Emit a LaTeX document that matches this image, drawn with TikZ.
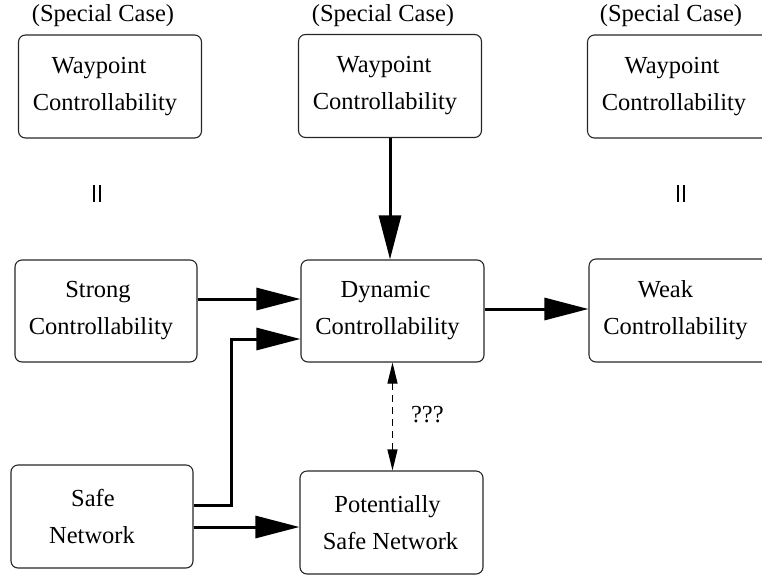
\documentclass[tikz,border=0pt]{standalone}
\usepackage{fontspec}
\setmainfont{Liberation Serif}
\usetikzlibrary{arrows.meta}
\newcommand{\tsh}[1]{\hspace*{#1pt}}
\tikzset{
  box/.style={draw=black!85, line width=1.1pt, rounded corners=7pt,
    minimum width=183pt, minimum height=103pt, align=center, inner sep=0pt,
    font=\fontsize{24.5}{37}\selectfont},
  lbl/.style={font=\fontsize{24.5}{30}\selectfont, inner sep=0pt},
  bigarrow/.style={line width=3pt, -{Triangle[length=44pt,width=22pt]}},
  dasharrow/.style={line width=1.1pt, dash pattern=on 7pt off 5pt,
    {Triangle[length=21pt,width=10pt]}-{Triangle[length=21pt,width=10pt]}},
  eqbar/.style={line width=1.3pt}
}
\begin{document}
\begin{tikzpicture}[x=1pt,y=-1pt]
\useasboundingbox (0,0) rectangle (762,576);
\clip (0,0) rectangle (762,576);
% special case labels
\node[lbl] (sc1) at (103,15.5) {(Special Case)};
\node[lbl] (sc2) at (383,15.5) {(Special Case)};
\node[lbl] (sc3) at (671,15.5) {(Special Case)};
% boxes
\node[box] (wp1) at (110,86.5) {Waypoint\tsh{22}\\Controllability\tsh{10}};
\node[box] (wp2) at (390,86) {Waypoint\tsh{12}\\Controllability\tsh{10}};
\node[box] (wp3) at (679,86.5) {Waypoint\tsh{14}\\Controllability\tsh{10}};
\node[box, minimum width=182pt, minimum height=102pt] (strong) at (106,311) {Strong\tsh{16}\\Controllability\tsh{10}};
\node[box, minimum height=102pt] (dyn) at (392.5,311) {Dynamic\tsh{14}\\Controllability\tsh{10}};
\node[box] (weak) at (680.5,310.5) {Weak\tsh{30}\\Controllability\tsh{10}};
\node[box, minimum width=182pt] (safe) at (102,516.5) {Safe\tsh{18}\\Network\tsh{20}};
\node[box] (pot) at (391.5,522.5) {Potentially\tsh{8}\\Safe Network\tsh{2}};
% equality marks
\coordinate (eq1) at (97,193.5);
\coordinate (eq2) at (681,193.5);
\draw[eqbar] ([xshift=-3pt,yshift=8.5pt]eq1) -- ([xshift=-3pt,yshift=-8.5pt]eq1);
\draw[eqbar] ([xshift=3pt,yshift=8.5pt]eq1) -- ([xshift=3pt,yshift=-8.5pt]eq1);
\draw[eqbar] ([xshift=-3pt,yshift=8.5pt]eq2) -- ([xshift=-3pt,yshift=-8.5pt]eq2);
\draw[eqbar] ([xshift=3pt,yshift=8.5pt]eq2) -- ([xshift=3pt,yshift=-8.5pt]eq2);
% arrows
\draw[bigarrow] (wp2.south) -- (wp2.south |- dyn.north);
\draw[bigarrow] ([yshift=12pt]strong.east) -- ([yshift=12pt]strong.east -| dyn.west);
\draw[bigarrow] ([yshift=11.5pt]safe.east) -- ++(38pt,0) |- ([yshift=-28pt]dyn.west);
\draw[bigarrow] ([yshift=-10.5pt]safe.east) -- ([yshift=-10.5pt]safe.east -| pot.west);
\draw[bigarrow] ([yshift=2pt]dyn.east) -- ([yshift=2pt]dyn.east -| weak.west);
\draw[dasharrow] (dyn.south) -- (dyn.south |- pot.north)
  node[pos=0.48, right=18pt, lbl] (q) {???};
\end{tikzpicture}
\end{document}
